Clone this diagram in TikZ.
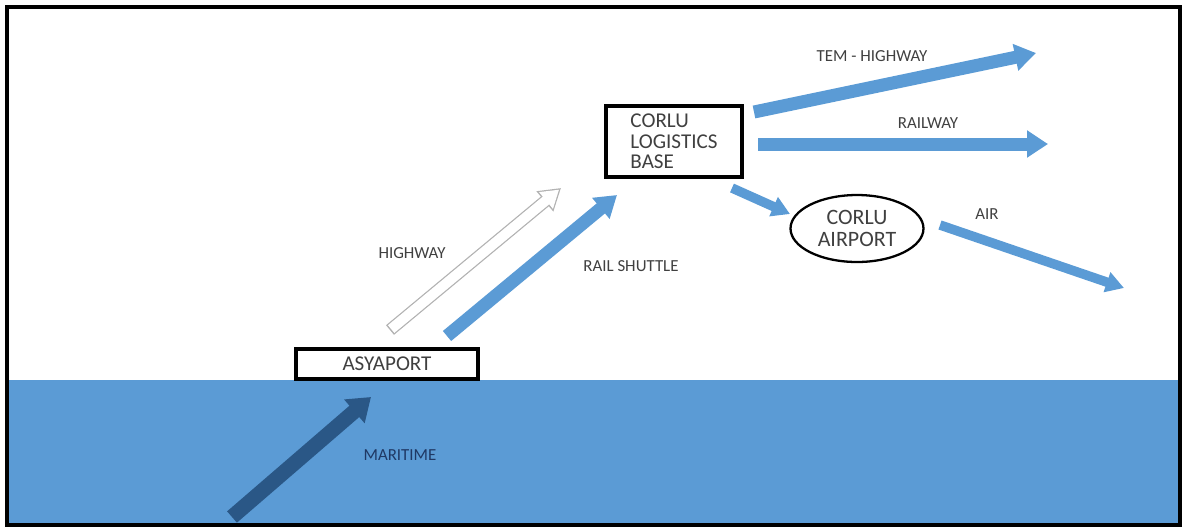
\documentclass[tikz,border=0pt]{standalone}
\usepackage{fontspec}
\setmainfont{Carlito}
\usetikzlibrary{arrows.meta,shapes.geometric}
\definecolor{seablue}{HTML}{5B9BD5}
\definecolor{deepblue}{HTML}{2A5786}
\definecolor{labelgray}{HTML}{404040}
\definecolor{navytext}{HTML}{1F3864}

\begin{document}
\begin{tikzpicture}[x=0.02cm,y=-0.02cm]
\tikzstyle{place} = [rectangle, draw=black, line width=2.2pt, fill=white,
inner sep=0pt, font=\fontsize{12}{11.6}\selectfont, text=labelgray]
\tikzstyle{airfield} = [ellipse, draw=black, line width=1.3pt, fill=white,
inner sep=0pt, minimum width=2.66cm, minimum height=1.34cm,
font=\fontsize{12.5}{12.8}\selectfont, text=labelgray, align=center]
\tikzstyle{lab} = [font=\fontsize{9.6}{10}\selectfont, text=labelgray, inner sep=1pt]
\tikzstyle{flow} = [draw=seablue, line width=0.26cm,
-{Triangle[width=0.52cm, length=0.42cm]}]
\tikzstyle{thinflow} = [draw=seablue, line width=0.19cm,
-{Triangle[width=0.4cm, length=0.36cm]}]
\tikzstyle{seaflow} = [draw=deepblue, line width=0.3cm,
-{Triangle[width=0.6cm, length=0.44cm]}]
\tikzstyle{hollow} = [draw=gray!60, line width=0.25cm,
-{Triangle[width=0.5cm, length=0.42cm]},
postaction={draw=white, line width=0.2cm, shorten <=0.03cm, shorten >=0.05cm,
-{Triangle[width=0.41cm, length=0.34cm]}}]

% sea and frame
\fill[seablue] (9,380) rectangle (1179,524);
\draw[line width=2.4pt] (7,7) rectangle (1180,525);

% places
\node [place, minimum width=3.64cm, minimum height=0.6cm] (asyaport) at (387,364) {ASYAPORT};
\node [place, minimum width=2.72cm, minimum height=1.42cm, align=left] (base) at (674,141.5)
{CORLU\\LOGISTICS\\BASE};
\node [airfield] (airport) at (857,228.5) {CORLU\\AIRPORT};

% arrow ends
\coordinate (mar0) at (232,517);   \coordinate (mar1) at (371,397);
\coordinate (hw0) at (390,330);    \coordinate (hw1) at (561,188);
\coordinate (rail0) at (447,336);  \coordinate (rail1) at (617,195);
\coordinate (tem0) at (754,112);   \coordinate (tem1) at (1036,53);
\coordinate (rw0) at (758,144);    \coordinate (rw1) at (1048,144);
\coordinate (ap0) at (732,188);    \coordinate (ap1) at (790,214);
\coordinate (air0) at (940,225);   \coordinate (air1) at (1124,288);

\draw [seaflow] (mar0) -- (mar1);
\draw [hollow] (hw0) -- (hw1);
\draw [flow] (rail0) -- (rail1);
\draw [flow] (tem0) -- (tem1);
\draw [flow] (rw0) -- (rw1);
\draw [thinflow] (ap0) -- (ap1);
\draw [thinflow] (air0) -- (air1);

% labels
\node [lab] (hwlab) at (412,253) {HIGHWAY};
\node [lab] (raillab) at (631,266) {RAIL SHUTTLE};
\node [lab] (temlab) at (872,56) {TEM - HIGHWAY};
\node [lab] (rwlab) at (928,123) {RAILWAY};
\node [lab] (airlab) at (987,214) {AIR};
\node [lab, text=navytext] (marlab) at (400,455) {MARITIME};

\useasboundingbox (0,0) rectangle (1187,529);
\end{tikzpicture}
\end{document}
